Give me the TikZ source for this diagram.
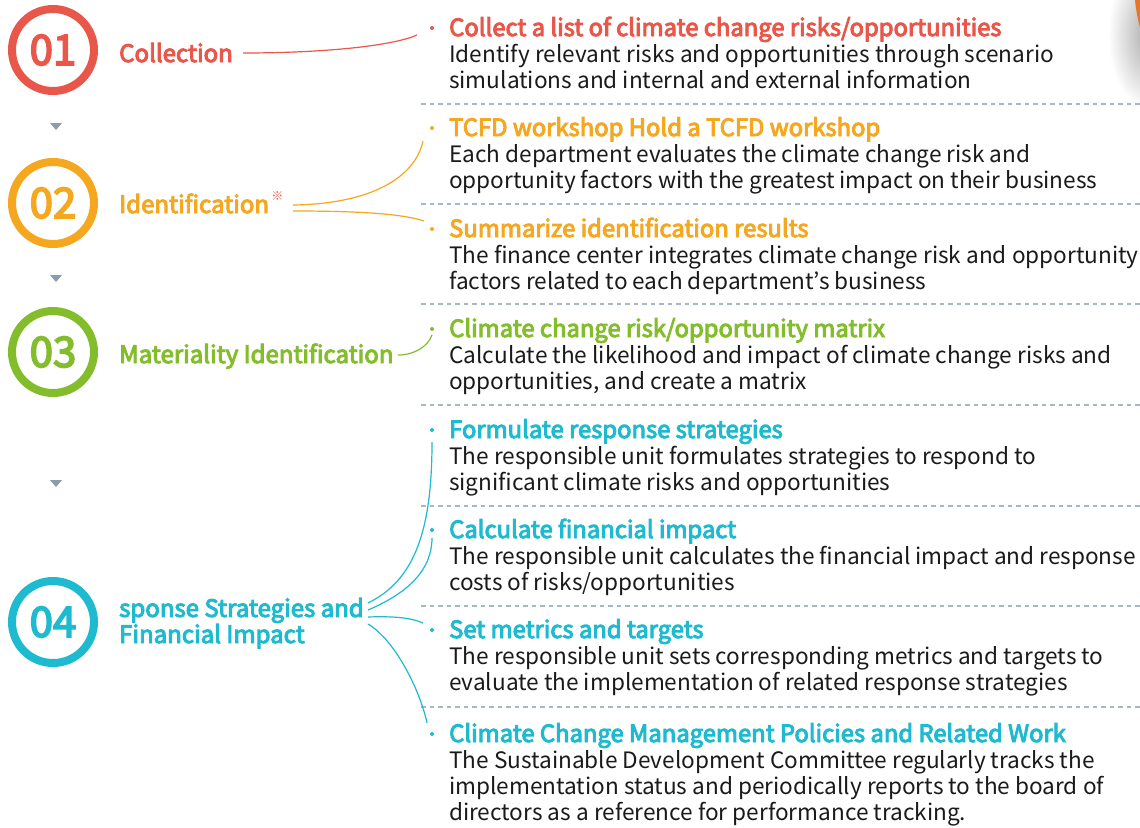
\documentclass[tikz,border=0pt]{standalone}
\usepackage{fontspec}
\setmainfont{Noto Sans CJK JP}[AutoFakeBold=4]
\definecolor{cred}{HTML}{E8574A}
\definecolor{corange}{HTML}{F5A71F}
\definecolor{cgreen}{HTML}{84BD2C}
\definecolor{ccyan}{HTML}{1EBAD0}
\definecolor{cgray}{HTML}{8D9CAB}
\definecolor{cdash}{HTML}{A9B7C4}
\definecolor{ctext}{HTML}{1A1A1A}
\definecolor{cshadow}{HTML}{A8A8A8}
\definecolor{ccorner}{HTML}{E8742A}
\newcommand{\ttl}[2]{{\color{#1}\fontsize{23.8}{26}\selectfont\bfseries #2}}
\begin{document}
\begin{tikzpicture}[x=1pt,y=-1pt,
  numcirc/.style={circle,draw=#1,line width=8pt,minimum size=82pt,inner sep=0pt,text=#1,font=\fontsize{42}{42}\selectfont\bfseries},
  steplabel/.style={anchor=base west,inner sep=0pt,text=#1,font=\fontsize{24}{25}\selectfont\bfseries,align=left},
  block/.style={anchor=base west,inner sep=0pt,align=left,text=ctext,font=\fontsize{22.6}{26}\selectfont},
  bul/.style={circle,fill=#1,inner sep=0pt,minimum size=4pt},
  link/.style={draw=#1,line width=1.2pt},
  sep/.style={draw=cdash,line width=1.2pt,dash pattern=on 4.5pt off 4pt},
  tri/.style={fill=cgray}]
\useasboundingbox (0,0) rectangle (1140,827);
\fill[white] (0,0) rectangle (1140,827);

% corner shadow artifact
\begin{scope}
  \clip (1090,0) rectangle (1140,110);
  \shade[inner color=cshadow,outer color=white] (1150,35) ellipse (42 and 75);
  \fill[ccorner] (1135,0) -- (1140,0) -- (1140,28) .. controls (1138,20) and (1136,10) .. (1135,0) -- cycle;
\end{scope}

% circles
\node[numcirc=cred] (c1) at (53,50) {01};
\node[numcirc=corange] (c2) at (53,203) {02};
\node[numcirc=cgreen] (c3) at (53,352) {03};
\node[numcirc=ccyan] (c4) at (53,622) {04};

% triangles
\fill[tri] (50,123) -- (62,123) -- (56,130) -- cycle;
\fill[tri] (50,275) -- (62,275) -- (56,282) -- cycle;
\fill[tri] (50,480) -- (62,480) -- (56,487) -- cycle;

% step labels
\node[steplabel=cred] (l1) at (119,62) {Collection};
\node[steplabel=corange] (l2) at (119,213) {Identification};
\node[anchor=west,inner sep=0pt,text=cred,font=\fontsize{12}{12}\selectfont] (mark) at ([xshift=2pt,yshift=17pt]l2.base east) {※};
\node[steplabel=cgreen] (l3) at (119,363) {Materiality Identification};
\node[steplabel=ccyan] (l4) at (119,643) {sponse Strategies and\\Financial Impact};

% separators
\foreach \yy/\nm in {104/s1,204/s2,304/s3,405/s4,506/s5,606/s6,707/s7}{
  \coordinate (\nm a) at (421,\yy);
  \coordinate (\nm b) at (1140,\yy);
  \draw[sep] (\nm a) -- (\nm b);
}

% bullets
\node[bul=cred] (b1) at (432,28) {};
\node[bul=corange] (b2) at (432,128) {};
\node[bul=corange] (b3) at (432,229) {};
\node[bul=cgreen] (b4) at (432,329) {};
\node[bul=ccyan] (b5) at (432,430) {};
\node[bul=ccyan] (b6) at (432,530) {};
\node[bul=ccyan] (b7) at (432,630) {};
\node[bul=ccyan] (b8) at (432,734) {};

% blocks (anchored at the baseline of their last line)
\node[block] (t1) at (449,88) {\ttl{cred}{Collect a list of climate change risks/opportunities}\\Identify relevant risks and opportunities through scenario\\simulations and internal and external information};
\node[block] (t2) at (449,188) {\ttl{corange}{TCFD workshop Hold a TCFD workshop}\\Each department evaluates the climate change risk and\\opportunity factors with the greatest impact on their business};
\node[block] (t3) at (449,289) {\ttl{corange}{Summarize identification results}\\The finance center integrates climate change risk and opportunity\\factors related to each department’s business};
\node[block] (t4) at (449,389) {\ttl{cgreen}{Climate change risk/opportunity matrix}\\Calculate the likelihood and impact of climate change risks and\\opportunities, and create a matrix};
\node[block] (t5) at (449,490) {\ttl{ccyan}{Formulate response strategies}\\The responsible unit formulates strategies to respond to\\significant climate risks and opportunities};
\node[block] (t6) at (449,590) {\ttl{ccyan}{Calculate financial impact}\\The responsible unit calculates the financial impact and response\\costs of risks/opportunities};
\node[block] (t7) at (449,690) {\ttl{ccyan}{Set metrics and targets}\\The responsible unit sets corresponding metrics and targets to\\evaluate the implementation of related response strategies};
\node[block] (t8) at (449,820) {\ttl{ccyan}{Climate Change Management Policies and Related Work}\\The Sustainable Development Committee regularly tracks the\\implementation status and periodically reports to the board of\\directors as a reference for performance tracking.};

% connector endpoints
\coordinate (p1s) at (243,53);   \coordinate (p1e) at (417,35);
\coordinate (p2s) at (293,205);  \coordinate (p2e) at (423,141);
\coordinate (p3s) at (293,211);  \coordinate (p3e) at (424,221);
\coordinate (p4s) at (398,355);  \coordinate (p4e) at (432,335);
\coordinate (p5s) at (368,603);  \coordinate (p5e) at (432,442);
\coordinate (p6s) at (368,610);  \coordinate (p6e) at (432,538);
\coordinate (p7s) at (368,617);  \coordinate (p7e) at (423,623);
\coordinate (p8s) at (368,624);  \coordinate (p8e) at (427,723);

\draw[link=cred] (p1s) .. controls (330,53) and (395,45) .. (p1e);
\draw[link=corange] (p2s) .. controls (370,204) and (415,178) .. (p2e);
\draw[link=corange] (p3s) .. controls (350,211) and (400,213) .. (p3e);
\draw[link=cgreen] (p4s) .. controls (415,355) and (428,346) .. (p4e);
\draw[link=ccyan] (p5s) .. controls (415,580) and (432,530) .. (p5e);
\draw[link=ccyan] (p6s) .. controls (408,593) and (432,570) .. (p6e);
\draw[link=ccyan] (p7s) .. controls (395,616) and (412,618) .. (p7e);
\draw[link=ccyan] (p8s) .. controls (395,640) and (420,690) .. (p8e);
\end{tikzpicture}
\end{document}
